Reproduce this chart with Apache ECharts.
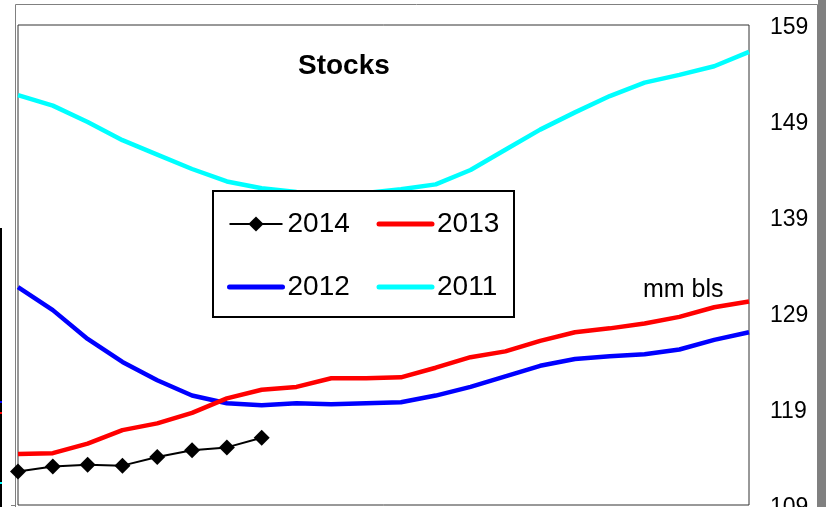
<!DOCTYPE html>
<html>
<head>
<meta charset="utf-8">
<script src="https://cdn.jsdelivr.net/npm/echarts@6/dist/echarts.min.js"></script>
<style>
html,body{margin:0;padding:0;background:#fff;}
#chart{width:826px;height:507px;}
</style>
</head>
<body>
<div id="chart"></div>
<script>
// ---- data ----
const weeks = ['W1','W2','W3','W4','W5','W6','W7','W8','W9','W10','W11','W12','W13','W14','W15','W16','W17','W18','W19','W20','W21','W22'];
const s2014 = [112.5, 113.0, 113.2, 113.1, 114.0, 114.7, 115.0, 116.0];
const s2013 = [114.3, 114.4, 115.4, 116.8, 117.5, 118.6, 120.1, 121.0, 121.3, 122.2, 122.2, 122.3, 123.3, 124.4, 125.0, 126.1, 127.0, 127.4, 127.9, 128.6, 129.6, 130.2];
const s2012 = [131.7, 129.3, 126.3, 123.9, 122.0, 120.4, 119.6, 119.4, 119.6, 119.5, 119.6, 119.7, 120.4, 121.3, 122.4, 123.5, 124.2, 124.5, 124.7, 125.2, 126.2, 127.0];
const s2011 = [151.7, 150.6, 148.9, 147.0, 145.5, 144.0, 142.7, 142.0, 141.6, 141.3, 141.5, 141.9, 142.4, 143.9, 146.0, 148.1, 149.9, 151.6, 153.0, 153.8, 154.7, 156.2];
const yTicks = [109, 119, 129, 139, 149, 159];
const titleText = 'Stocks';
const unitText = 'mm bls';

const FONT = '"Liberation Sans", Arial, sans-serif';
const chart = echarts.init(document.getElementById('chart'));
const plainLegend = (name, color) => ({name: name, itemStyle: {opacity: 0}, lineStyle: {color: color, width: 5, cap: 'round'}});
chart.setOption({
  animation: false,
  backgroundColor: '#fff',
  title: {
    text: titleText, left: 298, top: 52, padding: 0,
    textStyle: {fontFamily: FONT, fontSize: 28, fontWeight: 'bold', color: '#000'}
  },
  grid: {left: 18, right: 77, top: 25, bottom: 2, containLabel: false, outerBoundsMode: 'none',
    show: true, borderColor: '#333', borderWidth: 1, backgroundColor: 'transparent'},
  xAxis: {
    type: 'category', data: weeks, boundaryGap: false,
    axisLine: {show: false}, axisTick: {show: false}, axisLabel: {show: false}, splitLine: {show: false}
  },
  yAxis: {
    type: 'value', position: 'right', min: 109, max: 159,
    axisLine: {show: false}, axisTick: {show: false}, splitLine: {show: false},
    axisLabel: {customValues: yTicks, margin: 21, formatter: '{a|{value}}',
      rich: {a: {fontFamily: FONT, fontSize: 23, color: '#000', padding: [6, 0, 0, 0]}}}
  },
  legend: {
    data: [
      {name: '2014', lineStyle: {color: '#000', width: 2}},
      plainLegend('2013', '#FF0000'),
      plainLegend('2012', '#0000FF'),
      plainLegend('2011', '#00FFFF')
    ],
    left: 213, top: 191, width: 300,
    padding: [12, 9, 9, 14],
    itemWidth: 53, itemHeight: 19, itemGap: 21,
    borderColor: '#000', borderWidth: 2, backgroundColor: '#fff',
    textStyle: {fontFamily: FONT, fontSize: 28, color: '#000', width: 68, lineHeight: 42}
  },
  graphic: [
    {type: 'rect', shape: {x: 15.5, y: 4.5, width: 802, height: 510}, style: {fill: 'none', stroke: '#808080', lineWidth: 1}, z: 0},
    {type: 'rect', shape: {x: 818, y: 0, width: 8, height: 507}, style: {fill: '#808080'}, z: 0},
    {type: 'rect', shape: {x: 0, y: 228, width: 2, height: 279}, style: {fill: '#000'}, z: 0},
    {type: 'rect', shape: {x: 0, y: 401, width: 2, height: 2}, style: {fill: '#00f'}, z: 1},
    {type: 'rect', shape: {x: 0, y: 412, width: 2, height: 2}, style: {fill: '#f00'}, z: 1},
    {type: 'rect', shape: {x: 0, y: 482, width: 2, height: 2}, style: {fill: '#0ff'}, z: 1},
    {type: 'rect', shape: {x: 11, y: 505, width: 5, height: 1}, style: {fill: '#808080'}, z: 1},
    {type: 'text', style: {text: unitText, x: 643, y: 290, verticalAlign: 'middle', fontFamily: FONT, fontSize: 25, fill: '#000'}, z: 5}
  ],
  series: [
    {name: '2011', type: 'line', data: s2011, symbol: 'none', lineStyle: {color: '#00FFFF', width: 4.5}, itemStyle: {color: '#00FFFF'}, z: 2},
    {name: '2012', type: 'line', data: s2012, symbol: 'none', lineStyle: {color: '#0000FF', width: 4.5}, itemStyle: {color: '#0000FF'}, z: 3},
    {name: '2013', type: 'line', data: s2013, symbol: 'none', lineStyle: {color: '#FF0000', width: 4.5}, itemStyle: {color: '#FF0000'}, z: 4},
    {name: '2014', type: 'line', data: s2014, symbol: 'diamond', symbolSize: 16, showAllSymbol: true,
      lineStyle: {color: '#000', width: 2}, itemStyle: {color: '#000'}, z: 5}
  ]
});
</script>
</body>
</html>
